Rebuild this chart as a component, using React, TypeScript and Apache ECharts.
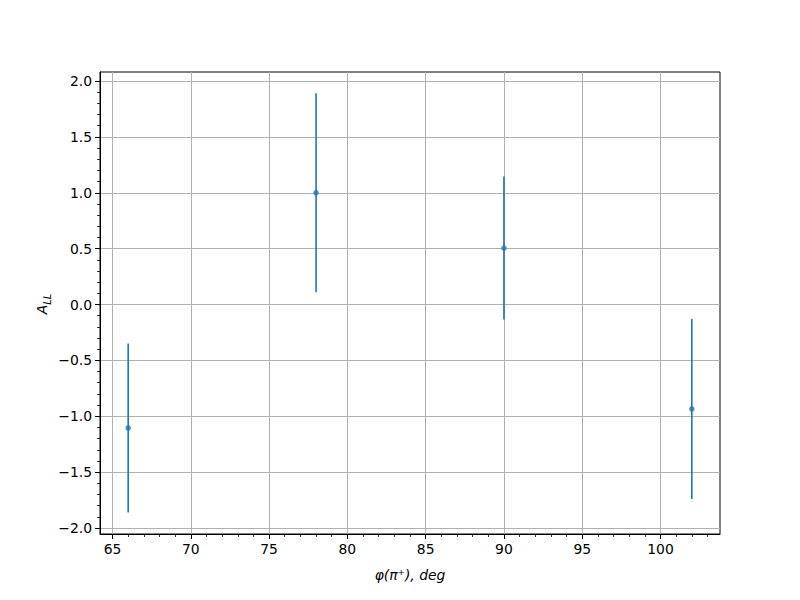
import React, { useEffect, useRef } from "react";
import * as echarts from "echarts";

const xValues = [66, 78, 90, 102];
const yValues = [-1.105, 1.0, 0.505, -0.935];
const yErrors = [0.755, 0.89, 0.64, 0.805];

const xMajorTicks = [65, 70, 75, 80, 85, 90, 95, 100];
const xMinorTicks = [65, 66, 67, 68, 69, 70, 71, 72, 73, 74, 75, 76, 77, 78, 79, 80, 81, 82, 83, 84, 85, 86, 87, 88, 89, 90, 91, 92, 93, 94, 95, 96, 97, 98, 99, 100, 101, 102, 103];
const yMajorTicks = [-2.0, -1.5, -1.0, -0.5, 0.0, 0.5, 1.0, 1.5, 2.0];
const yMinorTicks = [-2.0, -1.9, -1.8, -1.7, -1.6, -1.5, -1.4, -1.3, -1.2, -1.1, -1.0, -0.9, -0.8, -0.7, -0.6, -0.5, -0.4, -0.3, -0.2, -0.1, 0.0, 0.1, 0.2, 0.3, 0.4, 0.5, 0.6, 0.7, 0.8, 0.9, 1.0, 1.1, 1.2, 1.3, 1.4, 1.5, 1.6, 1.7, 1.8, 1.9, 2.0];

const X_MIN = 64.2;
const X_MAX = 103.8;
const Y_MIN = -2.0535;
const Y_MAX = 2.0805;

const BLUE = "#1f77b4";
const FONT = "DejaVu Sans";

export default function App() {
  const ref = useRef<HTMLDivElement>(null);
  useEffect(() => {
    if (!ref.current) return;
    const chart = echarts.init(ref.current, null, { renderer: "svg" });
    const grid = { left: 100, right: 80, top: 72, bottom: 66, show: true, borderColor: "#000", borderWidth: 1, backgroundColor: "#fff" };
    const minus = (v: number) => v.toFixed(1).replace("-", "\u2212");
    const option: any = {
      animation: false,
      backgroundColor: "#fff",
      grid,
      xAxis: [
        {
          type: "value", min: X_MIN, max: X_MAX, gridIndex: 0, position: "bottom",
          axisLine: { show: true, onZero: false, lineStyle: { color: "#000", width: 1 } },
          axisTick: { show: true, customValues: xMajorTicks, length: 5, lineStyle: { color: "#000", width: 1 } },
          axisLabel: { show: true, customValues: xMajorTicks, color: "#000", fontFamily: FONT, fontSize: 13.9, margin: 8, formatter: (v: number) => String(v) },
          splitLine: { show: true, lineStyle: { color: "#b0b0b0", width: 1 } },
        },
        {
          type: "value", min: X_MIN, max: X_MAX, gridIndex: 0, position: "bottom",
          axisLine: { show: false, onZero: false },
          axisTick: { show: true, customValues: xMinorTicks, length: 3, lineStyle: { color: "#000", width: 0.8 } },
          axisLabel: { show: false },
          splitLine: { show: false },
        },
      ],
      yAxis: [
        {
          type: "value", min: Y_MIN, max: Y_MAX, gridIndex: 0, position: "left",
          axisLine: { show: true, onZero: false, lineStyle: { color: "#000", width: 1 } },
          axisTick: { show: true, customValues: yMajorTicks, length: 5, lineStyle: { color: "#000", width: 1 } },
          axisLabel: { show: true, customValues: yMajorTicks, color: "#000", fontFamily: FONT, fontSize: 13.9, margin: 8, formatter: (v: number) => minus(v) },
          splitLine: { show: true, lineStyle: { color: "#b0b0b0", width: 1 } },
        },
        {
          type: "value", min: Y_MIN, max: Y_MAX, gridIndex: 0, position: "left",
          axisLine: { show: false, onZero: false },
          axisTick: { show: true, customValues: yMinorTicks, length: 3, lineStyle: { color: "#000", width: 0.8 } },
          axisLabel: { show: false },
          splitLine: { show: false },
        },
      ],
      series: [
        {
          type: "custom",
          xAxisIndex: 0, yAxisIndex: 0,
          data: xValues.map((x, i) => [x, yValues[i] - yErrors[i], yValues[i] + yErrors[i]]),
          renderItem: (params: any, api: any) => {
            const x = api.value(0);
            const p1 = api.coord([x, api.value(1)]);
            const p2 = api.coord([x, api.value(2)]);
            return {
              type: "line",
              shape: { x1: p1[0], y1: p1[1], x2: p2[0], y2: p2[1] },
              style: { stroke: BLUE, lineWidth: 1.6 },
            };
          },
          z: 3,
        },
        {
          type: "scatter",
          xAxisIndex: 0, yAxisIndex: 0,
          data: xValues.map((x, i) => [x, yValues[i]]),
          symbol: "circle",
          symbolSize: 5.5,
          itemStyle: { color: BLUE },
          z: 4,
        },
      ],
      graphic: [
        {
          type: "text",
          x: 410, y: 575,
          style: {
            text: "φ(π⁺), deg",
            font: `italic 13.9px ${FONT}`,
            fill: "#000",
            align: "center",
            verticalAlign: "middle",
          },
        },
        {
          type: "text",
          x: 42, y: 304,
          rotation: Math.PI / 2,
          style: {
            text: "{a|A}{s|LL}",
            fill: "#000",
            align: "center",
            verticalAlign: "middle",
            rich: {
              a: { fontFamily: FONT, fontStyle: "italic", fontSize: 13.9, lineHeight: 20, verticalAlign: "middle", fill: "#000" },
              s: { fontFamily: FONT, fontStyle: "italic", fontSize: 10, lineHeight: 20, verticalAlign: "bottom", fill: "#000" },
            },
          },
        },
      ],
    };
    chart.setOption(option);
    return () => chart.dispose();
  }, []);
  return <div ref={ref} style={{ width: 800, height: 600, position: "absolute", left: 0, top: 0 }} />;
}
